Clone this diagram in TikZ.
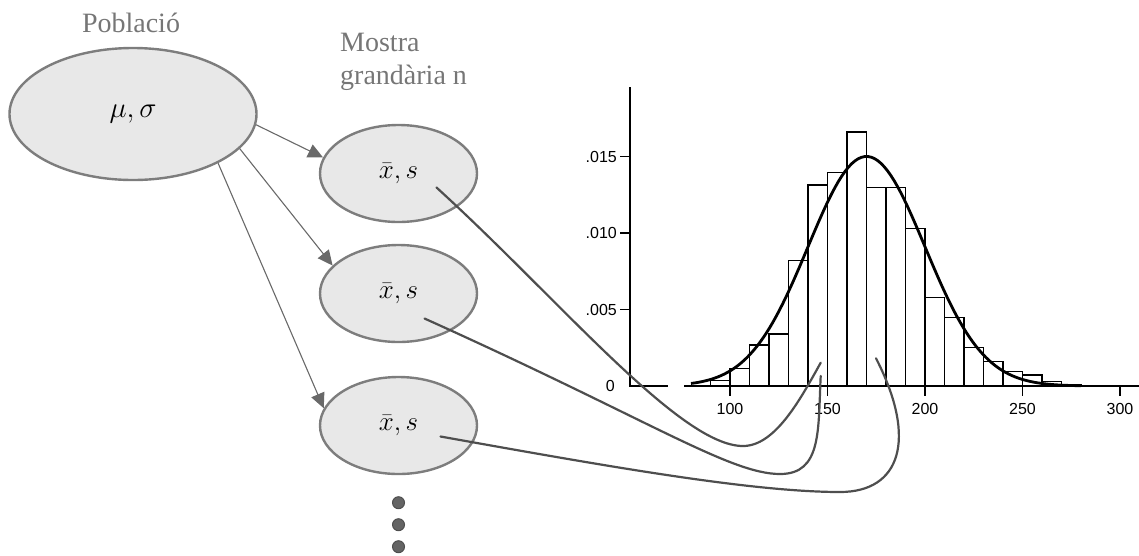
\RequirePackage{fix-cm}
\documentclass[tikz,border=0pt]{standalone}
\usepackage{fontspec}
\setmainfont{Liberation Serif}
\newfontfamily\axisfont{Liberation Sans}
\usetikzlibrary{arrows.meta,positioning,shapes.geometric}
\definecolor{txtgray}{RGB}{118,118,118}
\definecolor{popfill}{RGB}{232,232,232}
\definecolor{popline}{RGB}{125,125,125}
\definecolor{arrgray}{RGB}{105,105,105}
\definecolor{linkgray}{RGB}{78,78,78}
\definecolor{dotgray}{RGB}{100,100,100}

\begin{document}
\begin{tikzpicture}[x=1pt,y=-1pt,
    blob/.style={ellipse,draw=popline,line width=2.4pt,fill=popfill,inner sep=0pt,
      font=\fontsize{27}{31}\selectfont},
    small/.style={blob,minimum width=157pt,minimum height=97pt},
    lbl/.style={text=txtgray,font=\fontsize{28}{33}\selectfont,inner sep=0pt},
    arr/.style={-{Triangle[length=15pt,width=14pt]},draw=arrgray,line width=1.1pt},
    link/.style={draw=linkgray,line width=2.2pt,line cap=round},
    bar/.style={draw=black,line width=1.2pt},
    axis/.style={draw=black,line width=1.4pt},
    ticklbl/.style={font=\axisfont\fontsize{16}{18}\selectfont,inner sep=0pt},
    dot/.style={circle,fill=dotgray,draw=linkgray,line width=1pt,minimum size=12pt,inner sep=0pt}
  ]
    \useasboundingbox (0,0) rectangle (1139,555);

    \node[blob,minimum width=247pt,minimum height=132pt,font=\fontsize{29}{33}\selectfont] (pop) at (133,114) {$\mu,\sigma$};
    \node[lbl,anchor=base] (poplbl) at (131,32) {Població};
    \node[lbl,anchor=north west,align=left] (mostra) at (340,33) {Mostra\\grandària n};

    \node[small] (s1) at (398.5,173.5) {$\bar{x},s$};
    \node[small,below=20.6pt of s1] (s2) {$\bar{x},s$};
    \node[small,below=32.6pt of s2] (s3) {$\bar{x},s$};
    \node[dot,below=21pt of s3] (d1) {};
    \node[dot,below=9pt of d1] (d2) {};
    \node[dot,below=9pt of d2] (d3) {};

    \draw[arr] (pop.-5.5) -- (s1.168);
    \draw[arr] (pop.-18) -- (s2.157);
    \draw[arr] (pop.-30) -- (s3.167);

    \begin{scope}[shift={(535,386)},x=1.95pt,y=15.3pt]
      \foreach \l/\h in {90/0.35,100/1.13,110/2.68,120/3.4,130/8.19,140/13.14,150/13.94,
          160/16.6,170/12.96,180/12.96,190/10.3,200/5.8,210/4.46,220/2.5,230/1.59,
          240/0.93,250/0.72,260/0.28,270/0.07}
        \draw[bar] (\l,0) rectangle ++(10,\h);
      \draw[line width=2.8pt,domain=80:280,samples=120] plot (\x,{15*exp(-((\x-170)^2)/1800)});
    \end{scope}

    \draw[axis] (630,87) -- (630,386) -- (668,386);
    \draw[axis] (684,386) -- (1139,386);
    \foreach \v/\t [count=\i] in {5/.005,10/.010,15/.015} {
      \draw[axis] (620,{386-15.3*\v}) -- (630,{386-15.3*\v});
      \node[ticklbl,anchor=east] (yl\i) at (617,{386-15.3*\v}) {\t};
    }
    \node[ticklbl,anchor=east] (yl0) at (615,386) {0};
    \foreach \v in {100,150,...,300} {
      \draw[axis] ({535+1.95*\v},386) -- ++(0,10);
      \node[ticklbl,anchor=north] (xl\v) at ({535+1.95*\v},403) {\v};
    }

    \coordinate (c1) at ([shift={(38,14)}]s1.center);
    \coordinate (c2) at ([shift={(26,25)}]s2.center);
    \coordinate (c3) at ([shift={(42,11)}]s3.center);
    \coordinate (h1) at (820.7,362.7);
    \coordinate (h2) at (820.7,376);
    \coordinate (h3) at (876,358.3);
    \draw[link] (c1) .. controls (560,300) and (680,446) .. (743,446)
      .. controls (775,446) and (800,400) .. (h1);
    \draw[link] (c2) .. controls (650,420) and (730,474) .. (780,474)
      .. controls (822,474) and (818,430) .. (h2);
    \draw[link] (c3) .. controls (600,465) and (750,492) .. (840,492)
      .. controls (900,492) and (918,440) .. (h3);
  \end{tikzpicture}
\end{document}
